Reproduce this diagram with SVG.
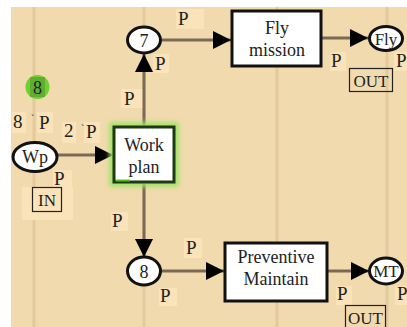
<svg xmlns="http://www.w3.org/2000/svg" width="407" height="327" viewBox="0 0 407 327">
<defs>
<style>
.t{font-family:"Liberation Serif","Times New Roman",serif;fill:#222;}
.lb{fill:#fae3b9;}
.vl{stroke:#e4c99b;stroke-width:3;}
.arc{stroke:#7a6a55;stroke-width:3;fill:none;}
.pl{fill:#fff;stroke:#111;stroke-width:3;}
.tr{fill:#fff;stroke:#111;stroke-width:3;}
.io{fill:none;stroke:#222;stroke-width:1.2;}
</style>
<marker id="ah" viewBox="0 0 10 10" refX="10" refY="5" markerWidth="6" markerHeight="6" markerUnits="strokeWidth" orient="auto">
<path d="M0,0 L10,5 L0,10 z" fill="#000"/>
</marker>
<filter id="glow" x="-30%" y="-30%" width="160%" height="160%">
<feGaussianBlur stdDeviation="2.5"/>
</filter>
</defs>
<rect x="0" y="0" width="407" height="327" fill="#fff"/>
<rect x="11" y="7" width="396" height="320" fill="#f1daae"/>
<g id="grid">
<line class="vl" x1="34" y1="7" x2="34" y2="327"/>
<line class="vl" x1="144" y1="7" x2="144" y2="327"/>
<line class="vl" x1="277" y1="7" x2="277" y2="327"/>
<line class="vl" x1="387" y1="7" x2="387" y2="327"/>
</g>
<g id="labels-bg">
<rect class="lb" x="176" y="9" width="28" height="20"/>
<rect class="lb" x="153" y="54" width="16" height="19"/>
<rect class="lb" x="121" y="89" width="22" height="19"/>
<rect class="lb" x="12" y="112" width="14" height="21"/>
<rect class="lb" x="37" y="112" width="16" height="21"/>
<rect class="lb" x="62" y="122" width="14" height="21"/>
<rect class="lb" x="84" y="122" width="16" height="21"/>
<rect class="lb" x="53" y="170" width="19" height="19"/>
<rect class="lb" x="22" y="187" width="51" height="33"/>
<rect class="lb" x="111" y="212" width="17" height="19"/>
<rect class="lb" x="184" y="238" width="18" height="20"/>
<rect class="lb" x="159" y="288" width="18" height="18"/>
<rect class="lb" x="330" y="52" width="16" height="19"/>
<rect class="lb" x="394" y="52" width="13" height="19"/>
<rect class="lb" x="336" y="286" width="16" height="19"/>
<rect class="lb" x="395" y="286" width="12" height="19"/>
</g>
<g id="connectors">
<line class="arc" x1="144" y1="127" x2="144" y2="54" marker-end="url(#ah)"/>
<line class="arc" x1="162" y1="40" x2="231" y2="40" marker-end="url(#ah)"/>
<line class="arc" x1="321" y1="38" x2="368" y2="38" marker-end="url(#ah)"/>
<line class="arc" x1="57" y1="155" x2="113" y2="155" marker-end="url(#ah)"/>
<line class="arc" x1="144" y1="182" x2="144" y2="257" marker-end="url(#ah)"/>
<line class="arc" x1="161" y1="271" x2="224" y2="271" marker-end="url(#ah)"/>
<line class="arc" x1="327" y1="271" x2="369" y2="271" marker-end="url(#ah)"/>
</g>
<g id="token">
<circle cx="37.5" cy="87" r="12" fill="#6dd22c"/>
<rect x="30" y="77" width="15" height="20" fill="#5fae32"/>
<text class="t" x="37.5" y="94" font-size="18" text-anchor="middle">8</text>
</g>
<g id="Wp">
<ellipse class="pl" cx="35" cy="157" rx="22" ry="14.5"/>
<text class="t" x="35" y="163" font-size="18" text-anchor="middle">Wp</text>
</g>
<g id="p7">
<ellipse class="pl" cx="144" cy="40" rx="16.5" ry="13"/>
<text class="t" x="144" y="46.5" font-size="18" text-anchor="middle">7</text>
</g>
<g id="p8">
<ellipse class="pl" cx="144" cy="271" rx="16.5" ry="14"/>
<text class="t" x="144" y="277.5" font-size="18" text-anchor="middle">8</text>
</g>
<g id="Fly">
<ellipse class="pl" cx="386" cy="38.5" rx="16.5" ry="12"/>
<text class="t" x="386" y="44.5" font-size="17" text-anchor="middle">Fly</text>
</g>
<g id="MT">
<ellipse class="pl" cx="386" cy="271" rx="16.5" ry="13"/>
<text class="t" x="386" y="277" font-size="17" text-anchor="middle">MT</text>
</g>
<g id="WorkPlan">
<rect x="114" y="127" width="60" height="55" fill="none" stroke="#9be462" stroke-width="9" filter="url(#glow)"/>
<rect x="114" y="127" width="60" height="55" fill="#fff" stroke="#1d3a12" stroke-width="3"/>
<line x1="116" y1="180.5" x2="130" y2="180.5" stroke="#4fc21f" stroke-width="2"/>
<text class="t" x="144" y="151" font-size="18" text-anchor="middle">Work</text>
<text class="t" x="144" y="173" font-size="18" text-anchor="middle">plan</text>
</g>
<g id="FlyMission">
<rect class="tr" x="232" y="11" width="89" height="55"/>
<text class="t" x="277" y="34" font-size="18" text-anchor="middle">Fly</text>
<text class="t" x="277" y="56" font-size="18" text-anchor="middle">mission</text>
</g>
<g id="PreventiveMaintain">
<rect class="tr" x="225" y="243" width="102" height="58"/>
<text class="t" x="276" y="263" font-size="18" text-anchor="middle">Preventive</text>
<text class="t" x="276" y="285" font-size="18" text-anchor="middle">Maintain</text>
</g>
<g id="texts">
<text class="t" x="178" y="25" font-size="19">P</text>
<text class="t" x="155" y="70" font-size="19">P</text>
<text class="t" x="124" y="105" font-size="19">P</text>
<text class="t" x="13" y="128" font-size="19">8</text>
<text class="t" x="31" y="122" font-size="10">`</text>
<text class="t" x="39" y="129" font-size="19">P</text>
<text class="t" x="64" y="137" font-size="19">2</text>
<text class="t" x="81" y="132" font-size="10">`</text>
<text class="t" x="86" y="138" font-size="19">P</text>
<text class="t" x="54" y="185" font-size="19">P</text>
<text class="t" x="112" y="227" font-size="19">P</text>
<text class="t" x="186" y="254" font-size="19">P</text>
<text class="t" x="160" y="302" font-size="19">P</text>
<text class="t" x="331" y="67" font-size="19">P</text>
<text class="t" x="396" y="67" font-size="19">P</text>
<text class="t" x="337" y="300" font-size="19">P</text>
<text class="t" x="397" y="300" font-size="19">P</text>
</g>
<g id="ports">
<rect class="io" x="32.5" y="187.5" width="29" height="24"/>
<text class="t" x="47" y="206" font-size="17" text-anchor="middle">IN</text>
<rect class="io" x="349.5" y="68.5" width="43" height="23"/>
<text class="t" x="371" y="87" font-size="17" text-anchor="middle">OUT</text>
<rect class="io" x="345.5" y="305.5" width="40" height="25"/>
<text class="t" x="365.5" y="324" font-size="17" text-anchor="middle">OUT</text>
</g>
</svg>
